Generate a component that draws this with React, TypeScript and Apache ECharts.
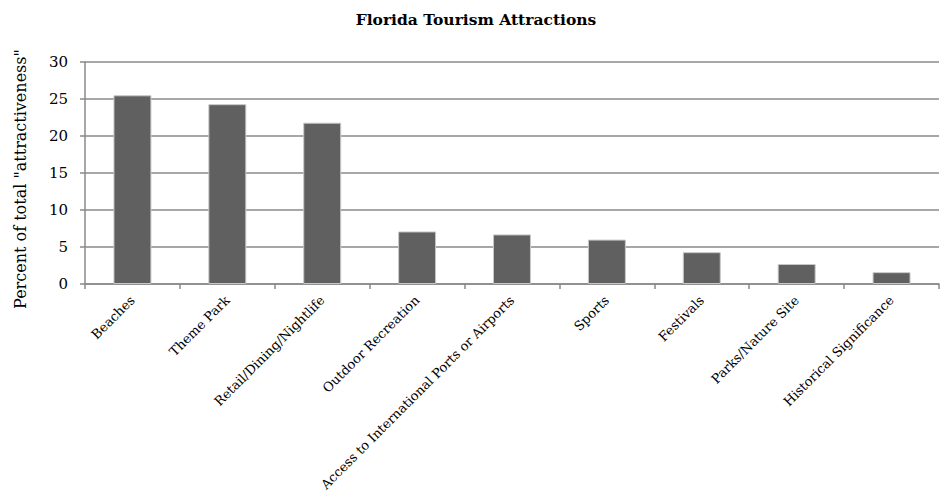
import React, { useEffect, useRef } from "react";
import * as echarts from "echarts";

const categories = [
  "Beaches",
  "Theme Park",
  "Retail/Dining/Nightlife",
  "Outdoor Recreation",
  "Access to International Ports or Airports",
  "Sports",
  "Festivals",
  "Parks/Nature Site",
  "Historical Significance",
];
const values = [25.5, 24.3, 21.8, 7.1, 6.7, 6.0, 4.3, 2.7, 1.6];
const titleText = "Florida Tourism Attractions";
const yAxisTitle = 'Percent of total "attractiveness"';

const SERIF = "'DejaVu Serif', serif";

export default function App() {
  const ref = useRef<HTMLDivElement>(null);
  useEffect(() => {
    if (!ref.current) return;
    const chart = echarts.init(ref.current, undefined, { renderer: "svg" });
    chart.setOption({
      animation: false,
      backgroundColor: "#ffffff",
      title: {
        text: titleText,
        left: 471,
        top: 6,
        textAlign: "center",
        textStyle: { fontFamily: SERIF, fontWeight: "bold", fontSize: 15.5, color: "#000" },
      },
      grid: { left: 85, right: 1, top: 62, bottom: 215, containLabel: false },
      xAxis: {
        type: "category",
        data: categories,
        boundaryGap: true,
        axisLine: { show: true, lineStyle: { color: "#8a8a8a", width: 1.5 } },
        axisTick: { show: true, length: 5, alignWithLabel: false, lineStyle: { color: "#8a8a8a", width: 1.5 } },
        axisLabel: {
          rotate: 45,
          interval: 0,
          margin: 14,
          fontFamily: SERIF,
          fontSize: 13,
          color: "#000",
        },
        splitLine: { show: false },
      },
      yAxis: {
        type: "value",
        min: 0,
        max: 30,
        interval: 5,
        name: yAxisTitle,
        nameLocation: "middle",
        nameGap: 57,
        nameTextStyle: { fontFamily: SERIF, fontSize: 16, color: "#000", padding: [0, 12, 0, 0] },
        axisLine: { show: true, lineStyle: { color: "#8a8a8a", width: 1.5 } },
        axisTick: { show: true, length: 5, lineStyle: { color: "#8a8a8a", width: 1.5 } },
        axisLabel: { margin: 17, fontFamily: SERIF, fontSize: 15, color: "#000" },
        splitLine: { show: true, lineStyle: { color: "#8a8a8a", width: 1.5 } },
      },
      series: [
        {
          type: "bar",
          data: values,
          barWidth: "40%",
          itemStyle: { color: "#606060", borderColor: "#c8c8c8", borderWidth: 1 },
        },
      ],
    });
    return () => chart.dispose();
  }, []);
  return (
    <div
      ref={ref}
      style={{ position: "absolute", left: 0, top: 0, width: 940, height: 499 }}
    />
  );
}
